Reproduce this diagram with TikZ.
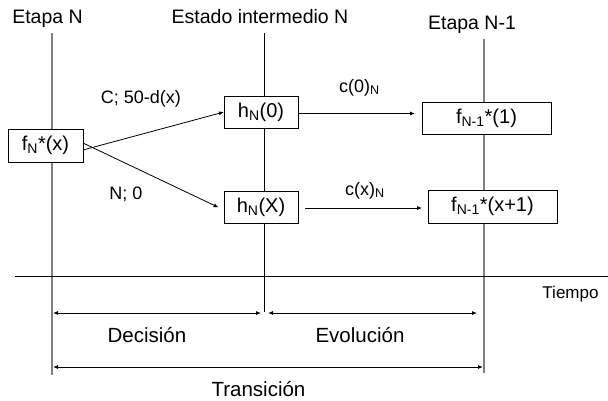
\documentclass[tikz,border=0pt]{standalone}
\usepackage{fontspec}
\setmainfont{Liberation Sans}
\usetikzlibrary{arrows.meta}
\begin{document}
\begin{tikzpicture}[x=1pt,y=-1pt,
  every node/.style={inner sep=0pt,outer sep=0pt},
  lbl/.style={font=\fontsize{18}{20}\selectfont},
  hdr/.style={font=\fontsize{19.5}{22}\selectfont},
  big/.style={font=\fontsize{20.5}{22}\selectfont},
  small/.style={font=\fontsize{17}{19}\selectfont},
  box/.style={draw=black,fill=white,line width=0.9pt,font=\fontsize{20}{22}\selectfont,align=center},
  stage/.style={draw={rgb,255:red,128;green,128;blue,128},line width=1.1pt},
  mid/.style={draw=black,line width=0.8pt},
  arr/.style={draw=black,line width=0.8pt,-{Latex[length=5pt,width=4pt]}},
  dbl/.style={draw=black,line width=0.8pt,{Latex[length=5pt,width=4pt]}-{Latex[length=5pt,width=4pt]}}]
\useasboundingbox (0,0) rectangle (608,400);
% headers
\node[hdr,anchor=base] (hA) at (47.5,23) {Etapa N};
\node[hdr,anchor=base] (hB) at (260,23) {Estado intermedio N};
\node[hdr,anchor=base] (hC) at (472,29) {Etapa N-1};
% axis coordinates
\coordinate (Ltop) at (52,33);  \coordinate (Lbot) at (52,375);
\coordinate (Mtop) at (264,33); \coordinate (Mbot) at (264,312);
\coordinate (Rtop) at (484,39); \coordinate (Rbot) at (484,373);
\coordinate (Tl) at (15,276);   \coordinate (Tr) at (608,276);
\draw[stage] (Ltop) -- (Lbot);
\draw[mid] (Mtop) -- (Mbot);
\draw[stage] (Rtop) -- (Rbot);
\draw[mid] (Tl) -- (Tr);
% boxes
\node[box,minimum width=75pt,minimum height=33pt] (fN) at (45.5,145.5) {f\textsubscript{N}*(x)};
\node[box,minimum width=74pt,minimum height=32pt] (h0) at (261,112) {h\textsubscript{N}(0)};
\node[box,minimum width=74pt,minimum height=32pt] (hX) at (261,207) {h\textsubscript{N}(X)};
\node[box,minimum width=129pt,minimum height=32pt] (f1) at (486.5,118) {f\textsubscript{N-1}*(1)};
\node[box,minimum width=129pt,minimum height=33pt] (fX) at (492.5,206.5) {f\textsubscript{N-1}*(x+1)};
% decision arrows
\draw[arr] ([yshift=-4.5pt]fN.east) -- (h0.west);
\draw[arr,shorten >=6pt] ([yshift=2.5pt]fN.east) -- ([yshift=-3pt]hX.west);
\node[lbl,anchor=base] (lC) at (141,103) {C; 50-d(x)};
\node[lbl,anchor=base] (lN) at (126,199) {N; 0};
% evolution arrows
\draw[arr,shorten >=7pt] ([yshift=-1.5pt]h0.east) -- ([yshift=-1.5pt]h0.east -| f1.west);
\draw[arr,shorten <=7pt,shorten >=6pt] ([yshift=-1pt]hX.east) -- ([yshift=-1pt]hX.east -| fX.west);
\node[lbl,anchor=base] (l0) at (359.5,92) {c(0)\textsubscript{N}};
\node[lbl,anchor=base] (lx) at (365,195) {c(x)\textsubscript{N}};
% time
\node[small,anchor=base] (ti) at (570.5,298) {Tiempo};
\coordinate (D1) at (53,313);  \coordinate (D2) at (261,313);
\coordinate (E1) at (268,313); \coordinate (E2) at (477,313);
\coordinate (T1) at (53,367);  \coordinate (T2) at (483,367);
\draw[dbl] (D1) -- (D2);
\draw[dbl] (E1) -- (E2);
\draw[dbl] (T1) -- (T2);
\node[big,anchor=base] (dec) at (147,342) {Decisión};
\node[big,anchor=base] (evo) at (360,342) {Evolución};
\node[big,anchor=base] (tra) at (258.5,396) {Transición};
\end{tikzpicture}
\end{document}
